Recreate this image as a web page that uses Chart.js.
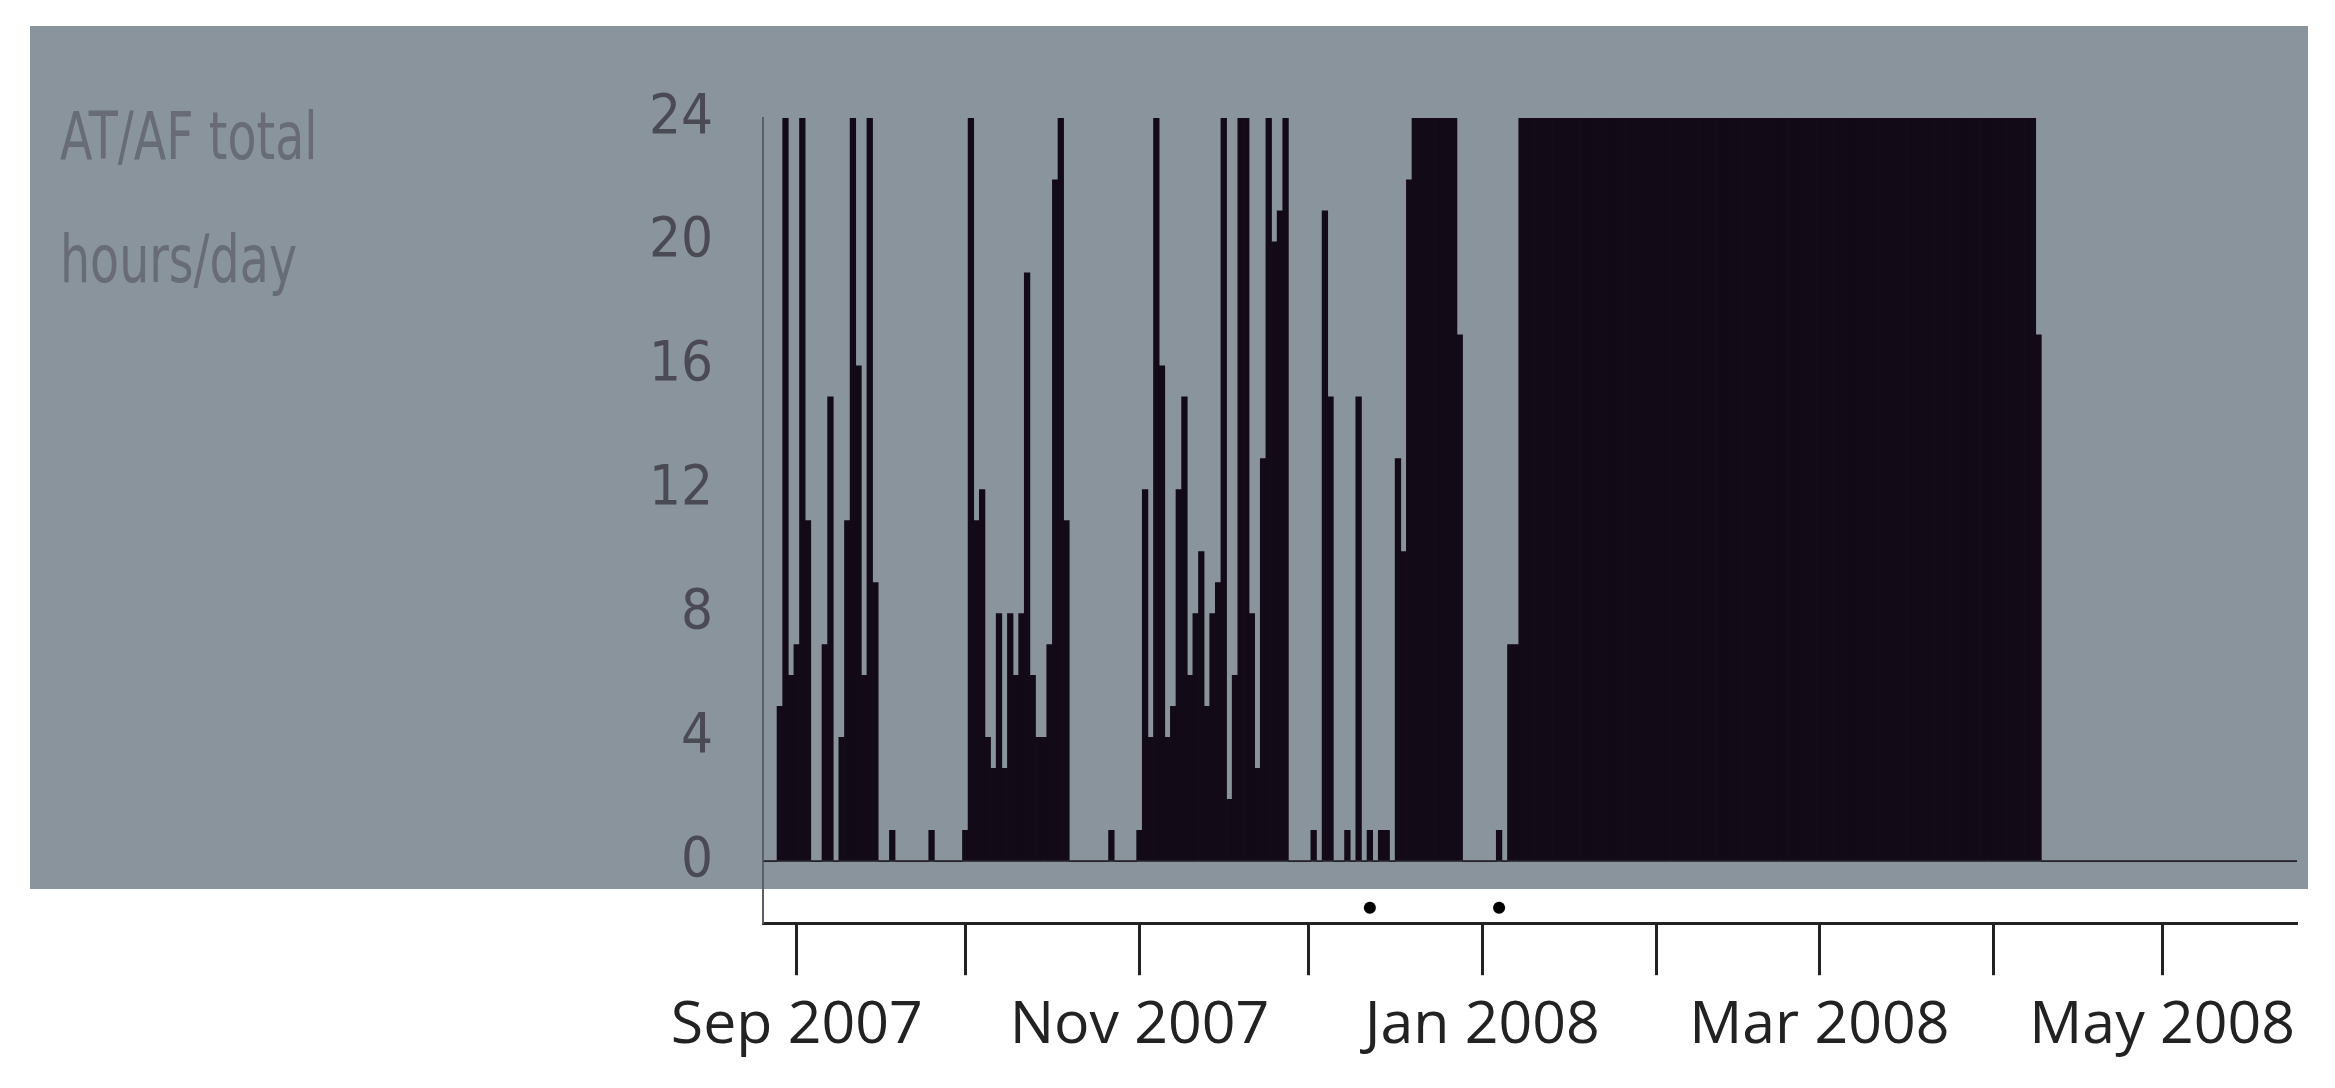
<!DOCTYPE html>
<html>
<head>
<meta charset="utf-8">
<script src="https://cdn.jsdelivr.net/npm/chart.js@4"></script>
<style>
  html, body { margin: 0; padding: 0; background: #fff; }
  #wrap { width: 2335px; height: 1088px; }
</style>
</head>
<body>
<div id="wrap"><canvas id="chart"></canvas></div>
<script>
// day 0 = 26 Aug 2007, one value (hours/day) per day
const firstDay = "2007-08-26";
const hoursPerDay = [
  0, 0, 0, 5, 24, 6, 7, 24, 11, 0,
  0, 7, 15, 0, 4, 11, 24, 16, 6, 24,
  9, 0, 0, 1, 0, 0, 0, 0, 0, 0,
  1, 0, 0, 0, 0, 0, 1, 24, 11, 12,
  4, 3, 8, 3, 8, 6, 8, 19, 6, 4,
  4, 7, 22, 24, 11, 0, 0, 0, 0, 0,
  0, 0, 1, 0, 0, 0, 0, 1, 12, 4,
  24, 16, 4, 5, 12, 15, 6, 8, 10, 5,
  8, 9, 24, 2, 6, 24, 24, 8, 3, 13,
  24, 20, 21, 24, 0, 0, 0, 0, 1, 0,
  21, 15, 0, 0, 1, 0, 15, 0, 1, 0,
  1, 1, 0, 13, 10, 22, 24, 24, 24, 24,
  24, 24, 24, 24, 17, 0, 0, 0, 0, 0,
  0, 1, 0, 7, 7, 24, 24, 24, 24, 24,
  24, 24, 24, 24, 24, 24, 24, 24, 24, 24,
  24, 24, 24, 24, 24, 24, 24, 24, 24, 24,
  24, 24, 24, 24, 24, 24, 24, 24, 24, 24,
  24, 24, 24, 24, 24, 24, 24, 24, 24, 24,
  24, 24, 24, 24, 24, 24, 24, 24, 24, 24,
  24, 24, 24, 24, 24, 24, 24, 24, 24, 24,
  24, 24, 24, 24, 24, 24, 24, 24, 24, 24,
  24, 24, 24, 24, 24, 24, 24, 24, 24, 24,
  24, 24, 24, 24, 24, 24, 24, 17, 0, 0,
  0, 0, 0, 0, 0, 0, 0, 0, 0, 0,
  0, 0, 0, 0, 0, 0, 0, 0, 0, 0,
  0, 0, 0, 0, 0, 0, 0, 0, 0, 0,
  0, 0, 0, 0, 0, 0, 0, 0, 0, 0,
  0, 0, 0, 0
];
// month starts, as day index from firstDay
const monthTicks = [6, 36, 67, 97, 128, 159, 188, 219, 249];
const monthLabels = ["Sep 2007", "", "Nov 2007", "", "Jan 2008", "", "Mar 2008", "", "May 2008"];
const yTicks = [0, 4, 8, 12, 16, 20, 24];
// event markers on the time axis (day index)
const markerDays = [108, 131];
const markerLevel = -1.5;
const titleLines = ["AT/AF total", "hours/day"];

const dayLabels = hoursPerDay.map((v, i) => i);

const panel = {
  id: "panel",
  beforeDraw(chart) {
    const c = chart.ctx;
    c.save();
    c.fillStyle = "#89949c";
    c.fillRect(30, 26, 2278, 863);
    c.fillStyle = "#676c76";
    c.font = "66px 'DejaVu Sans', sans-serif";
    c.textBaseline = "middle";
    c.scale(0.72, 1);
    c.fillText(titleLines[0], 60 / 0.72, 142);
    c.fillText(titleLines[1], 60 / 0.72, 265);
    c.restore();
  }
};

new Chart(document.getElementById("chart"), {
  type: "bar",
  data: {
    labels: dayLabels,
    datasets: [
      {
        type: "bar",
        data: hoursPerDay,
        backgroundColor: "#120a16",
        barPercentage: 1,
        categoryPercentage: 1,
        borderWidth: 0
      },
      {
        type: "scatter",
        data: markerDays.map(d => ({ x: d, y: markerLevel })),
        backgroundColor: "#000",
        pointRadius: 6,
        clip: false
      }
    ]
  },
  options: {
    responsive: true,
    maintainAspectRatio: false,
    animation: false,
    layout: { padding: { left: 633, right: 38, top: 118, bottom: 10 } },
    plugins: { legend: { display: false }, tooltip: { enabled: false } },
    scales: {
      x: {
        type: "category",
        offset: false,
        afterBuildTicks: s => { s.ticks = monthTicks.map(v => ({ value: v })); },
        grid: { drawOnChartArea: false, offset: false, tickLength: 52, tickColor: "#222", tickWidth: 3 },
        border: { color: "#222", width: 3 },
        ticks: {
          autoSkip: false,
          maxRotation: 0,
          padding: 16,
          color: "#222",
          font: { family: "'Open Sans', sans-serif", size: 59 },
          callback: (v, i) => monthLabels[i]
        }
      },
      y: {
        min: -2,
        max: 24,
        afterFit: s => { s.width = 130; },
        afterBuildTicks: s => { s.ticks = yTicks.map(v => ({ value: v })); },
        grid: {
          drawTicks: false,
          color: c => c.tick && c.tick.value === 0 ? "#3a3a40" : "rgba(0,0,0,0)",
          lineWidth: 2
        },
        border: { color: "#5a5f68", width: 2 },
        ticks: {
          padding: 50,
          color: "#4a4a55",
          font: { family: "'Liberation Sans Narrow', 'DejaVu Sans Condensed', sans-serif", size: 56 }
        }
      }
    }
  },
  plugins: [panel]
});
</script>
</body>
</html>
